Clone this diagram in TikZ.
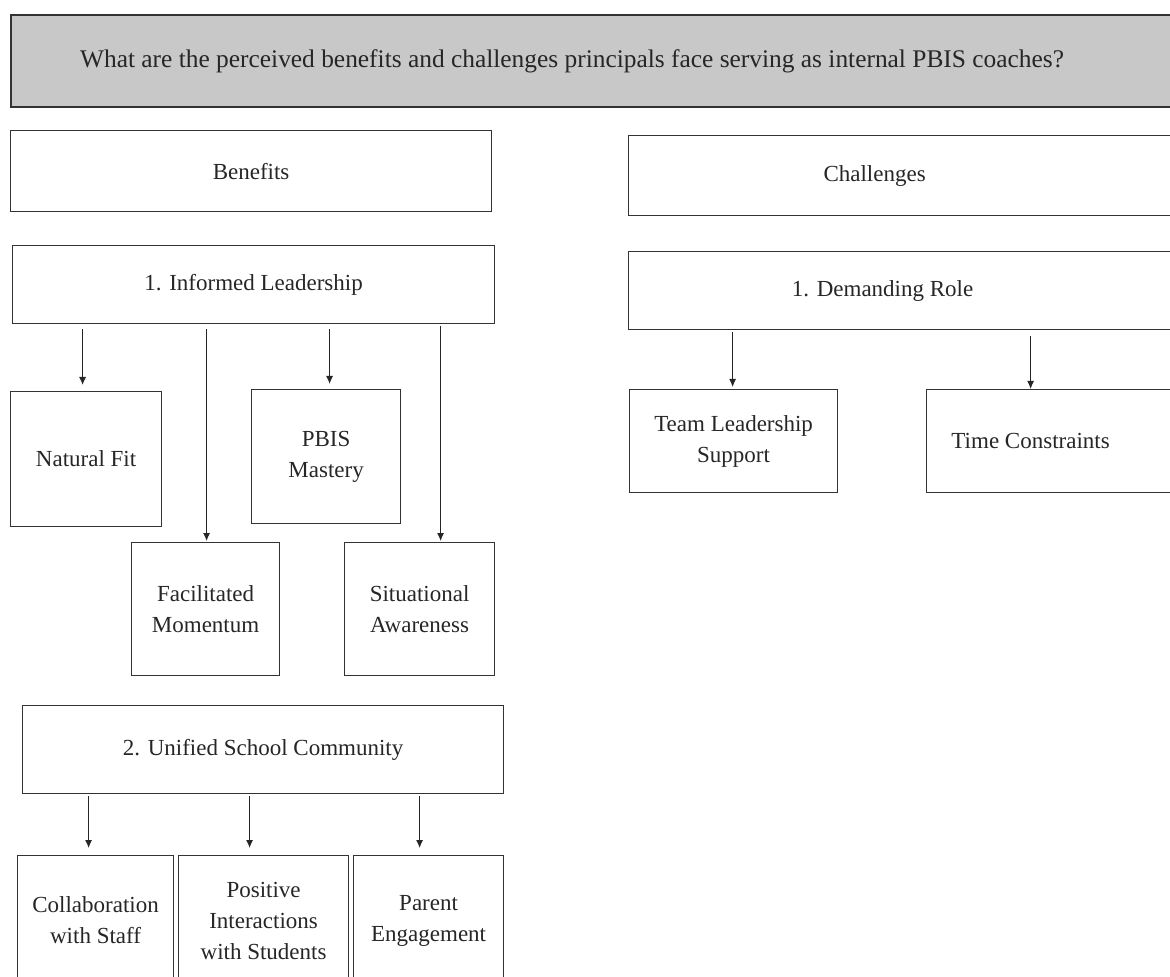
\documentclass[tikz,border=0pt]{standalone}
\usepackage{fontspec}
\setmainfont{Liberation Serif}
\usetikzlibrary{arrows.meta}
\definecolor{qgray}{RGB}{200,200,200}

\begin{document}
\begin{tikzpicture}
[x=0.5pt, y=-0.5pt,
% STYLES
% The box style is used for every block of the chart
box/.style={rectangle, draw=black!80, line width=0.6pt, anchor=north west, align=center, inner sep=0pt, text=black!85, font=\fontsize{11.5}{15.5}\selectfont},
% The question style is used for the research question on top
question/.style={box, fill=qgray, line width=1pt, font=\fontsize{12.7}{15.5}\selectfont},
% The link style is used for the arrows from a theme to its subthemes
link/.style={-{Latex[length=4pt, width=3.5pt]}, line width=0.5pt, draw=black!85}]

\useasboundingbox (0,0) rectangle (1170,977);
\clip (0,0) rectangle (1170,977);

% Research question
\node [question, minimum width=582.5pt, minimum height=46pt] (rq) at (10,14) {\hspace*{-21.5pt}What are the perceived benefits and challenges principals face serving as internal PBIS coaches?};

% BENEFITS
\node [box, minimum width=240.5pt, minimum height=40.5pt] (benefits) at (10,130) {Benefits};
\node [box, minimum width=241pt, minimum height=39pt] (informed) at (12,245) {1. Informed Leadership};
\node [box, minimum width=75.5pt, minimum height=67.5pt] (natfit) at (10,391) {Natural Fit};
\node [box, minimum width=74.5pt, minimum height=67pt] (pbis) at (251,389) {PBIS\\Mastery};
\node [box, minimum width=74pt, minimum height=66.5pt] (facil) at (131,542) {Facilitated\\Momentum};
\node [box, minimum width=75pt, minimum height=66.5pt] (situ) at (344,542) {Situational\\Awareness};
\node [box, minimum width=240.5pt, minimum height=44pt] (unified) at (22,705) {2. Unified School Community};
\node [box, minimum width=78pt, minimum height=65pt] (collab) at (17,855) {Collaboration\\with Staff};
\node [box, minimum width=85pt, minimum height=65pt] (posint) at (178,855) {Positive\\Interactions\\with Students};
\node [box, minimum width=75pt, minimum height=65pt] (parent) at (353,855) {Parent\\Engagement};

% CHALLENGES
\node [box, minimum width=273.5pt, minimum height=40pt] (challenges) at (628,135) {\hspace*{-27.5pt}Challenges};
\node [box, minimum width=273.5pt, minimum height=39pt] (demand) at (628,251) {\hspace*{-19.5pt}1. Demanding Role};
\node [box, minimum width=104pt, minimum height=51.5pt] (team) at (629,389) {Team Leadership\\Support};
\node [box, minimum width=124.5pt, minimum height=51.5pt] (time) at (926,389) {\hspace*{-20.5pt}Time Constraints};

% Draw the links between themes and subthemes
\foreach \from/\to/\dx/\sa/\sb in {informed/natfit/-1.75pt/2.5pt/3pt,
    informed/facil/0.5pt/2.5pt/0.5pt,
    informed/pbis/1.75pt/2.5pt/2.5pt,
    informed/situ/10.5pt/1pt/0.5pt,
    demand/team/-0.5pt/1pt/1pt,
    demand/time/-10.25pt/3pt/0pt,
    unified/collab/-3.5pt/1pt/3.5pt,
    unified/posint/-7pt/1pt/3.5pt,
    unified/parent/-4.5pt/1pt/3.5pt}
{
    \path ([xshift=\dx]\to.north) coordinate (tip);
    \draw [link, shorten <=\sa, shorten >=\sb] (\from.south -| tip) -- (tip);
}

\end{tikzpicture}
\end{document}
